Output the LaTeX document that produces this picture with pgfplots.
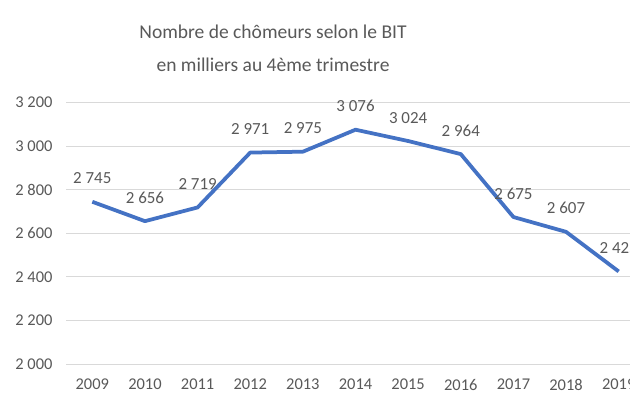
\documentclass[border=0pt]{standalone}
\usepackage{fontspec}
\setmainfont{Carlito}
\usepackage{pgfplots}
\pgfplotsset{compat=1.18}

\definecolor{linecol}{HTML}{4472C4}
\definecolor{txtcol}{HTML}{595959}
\definecolor{gridcol}{HTML}{D9D9D9}

\begin{document}
\begin{tikzpicture}[x=1bp,y=1bp]
\useasboundingbox (0,0) rectangle (630,400);
\clip (0,0) rectangle (630,400);
\fill[white] (0,0) rectangle (630,400);

% titre
\node[anchor=base, font=\fontsize{19.6}{30}\selectfont, text=txtcol] at (273,361.7)
  {Nombre de chômeurs selon le BIT};
\node[anchor=base, font=\fontsize{19.6}{30}\selectfont, text=txtcol] at (273,329)
  {en milliers au 4ème trimestre};

\begin{axis}[
    at={(66bp,36bp)}, anchor=south west,
    scale only axis,
    width=579bp, height=261.3bp,
    xmin=2008.5, xmax=2019.5,
    ymin=2000, ymax=3200,
    xtick=data,
    ytick={2000,2200,...,3200},
    ymajorgrids=true,
    grid style={gridcol, line width=1bp},
    axis line style={draw=none},
    major tick length=0pt,
    tick label style={font=\fontsize{16.5}{19}\selectfont, text=txtcol},
    /pgf/number format/assume math mode=true,
    /pgf/number format/1000 sep={\ },
    x tick label style={/pgf/number format/1000 sep={}, yshift=-11.5bp},
    y tick label style={xshift=-10bp},
    clip=false,
]
\addplot[
    color=linecol, line width=3.75bp, line join=round,
    nodes near coords={\pgfmathprintnumber[1000 sep={\ }]{\pgfplotspointmeta}},
    every node near coord/.append style={
        font=\fontsize{17}{20}\selectfont, text=txtcol,
        anchor=south, inner sep=0pt, yshift=16bp},
] coordinates {
    (2009,2745) (2010,2656) (2011,2719) (2012,2971) (2013,2975)
    (2014,3076) (2015,3024) (2016,2964) (2017,2675) (2018,2607)
    (2019,2425)
};
\end{axis}
\end{tikzpicture}
\end{document}
